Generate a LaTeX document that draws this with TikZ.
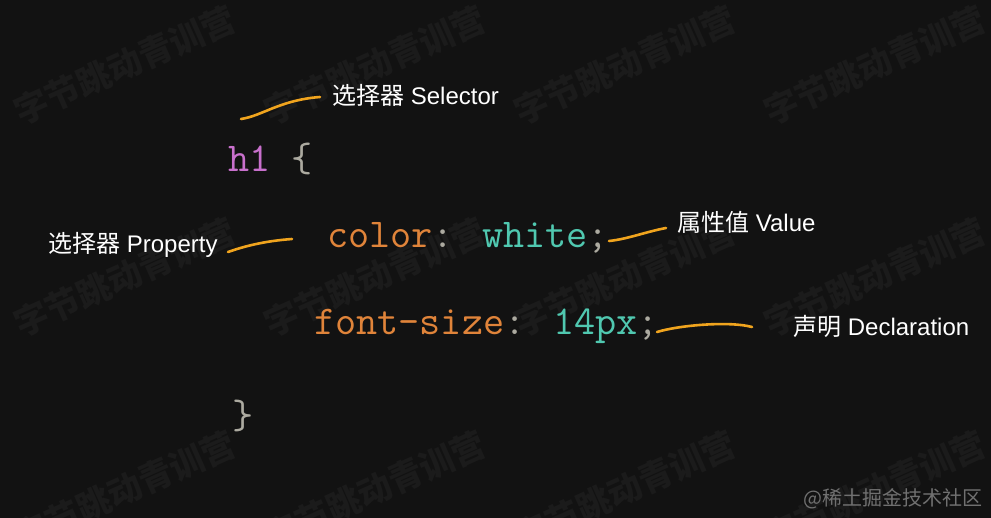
\documentclass[tikz,border=0pt]{standalone}
\usepackage{fontspec}
\setmainfont{Liberation Sans}
\newfontfamily\cjk{Noto Sans CJK SC}
\usepackage{xcolor}
\definecolor{bgcol}{RGB}{18,18,18}
\definecolor{wmcol}{RGB}{27,27,27}
\definecolor{tagcol}{RGB}{200,112,204}
\definecolor{puncol}{RGB}{172,170,160}
\definecolor{propcol}{RGB}{224,132,58}
\definecolor{valcol}{RGB}{80,200,176}
\definecolor{markcol}{RGB}{240,164,30}
\definecolor{credcol}{RGB}{112,112,112}

\begin{document}
\begin{tikzpicture}[x=1pt,y=-1pt,
    code/.style={anchor=base west,inner sep=0pt,font=\ttfamily\fontsize{41}{41}\selectfont},
    lbl/.style={anchor=base west,inner sep=0pt,text=white,font=\fontsize{24}{24}\selectfont},
    hand/.style={draw=markcol,line width=2.6pt,line cap=round},
    wmark/.style={rotate=24,text=wmcol,font=\cjk\bfseries\fontsize{34}{34}\selectfont}]

      \path[use as bounding box,fill=bgcol] (0,0) rectangle (991,518);

      \begin{scope}
        \clip (0,0) rectangle (991,518);
        \foreach \x in {125,375,625,875}
          \foreach \y in {65,277,490}
            \node[wmark] (wm-\x-\y) at (\x,\y) {字节跳动青训营};
      \end{scope}

      \node[code] (sel) at (228,172) {\textcolor{tagcol}{h1} \textcolor{puncol}{\{}};
      \node[code] (decl1) at (327,248) {\textcolor{propcol}{color}\textcolor{puncol}{:} \textcolor{valcol}{white}\textcolor{puncol}{;}};
      \node[code] (decl2) at (314,335) {\textcolor{propcol}{font-size}\textcolor{puncol}{:} \textcolor{valcol}{14px}\textcolor{puncol}{;}};
      \node[code] (close) at (232,429) {\textcolor{puncol}{\}}};

      \node[lbl] (selector) at (332,105) {{\cjk 选择器} Selector};
      \node[lbl] (property) at (48,253) {{\cjk 选择器} Property};
      \node[lbl] (value) at (677,232) {{\cjk 属性值} Value};
      \node[lbl] (declaration) at (793,336) {{\cjk 声明} Declaration};

      \coordinate (sel-a) at (241,119);
      \coordinate (sel-b) at (320,97);
      \coordinate (prop-a) at (228,252);
      \coordinate (prop-b) at (292,239);
      \coordinate (val-a) at (609,241);
      \coordinate (val-b) at (666,228);
      \coordinate (decl-a) at (657,332);
      \coordinate (decl-b) at (752,327);

      \draw[hand] (sel-a) .. controls (262,116) and (280,100) .. (sel-b);
      \draw[hand] (prop-a) .. controls (245,246) and (265,241) .. (prop-b);
      \draw[hand] (val-a) .. controls (628,239) and (645,232) .. (val-b);
      \draw[hand] (decl-a) .. controls (680,325) and (730,321) .. (decl-b);

      \node[anchor=base east,inner sep=0pt,text=credcol,font=\cjk\fontsize{20}{20}\selectfont] (credit) at (983,505) {@稀土掘金技术社区};
    \end{tikzpicture}
\end{document}
